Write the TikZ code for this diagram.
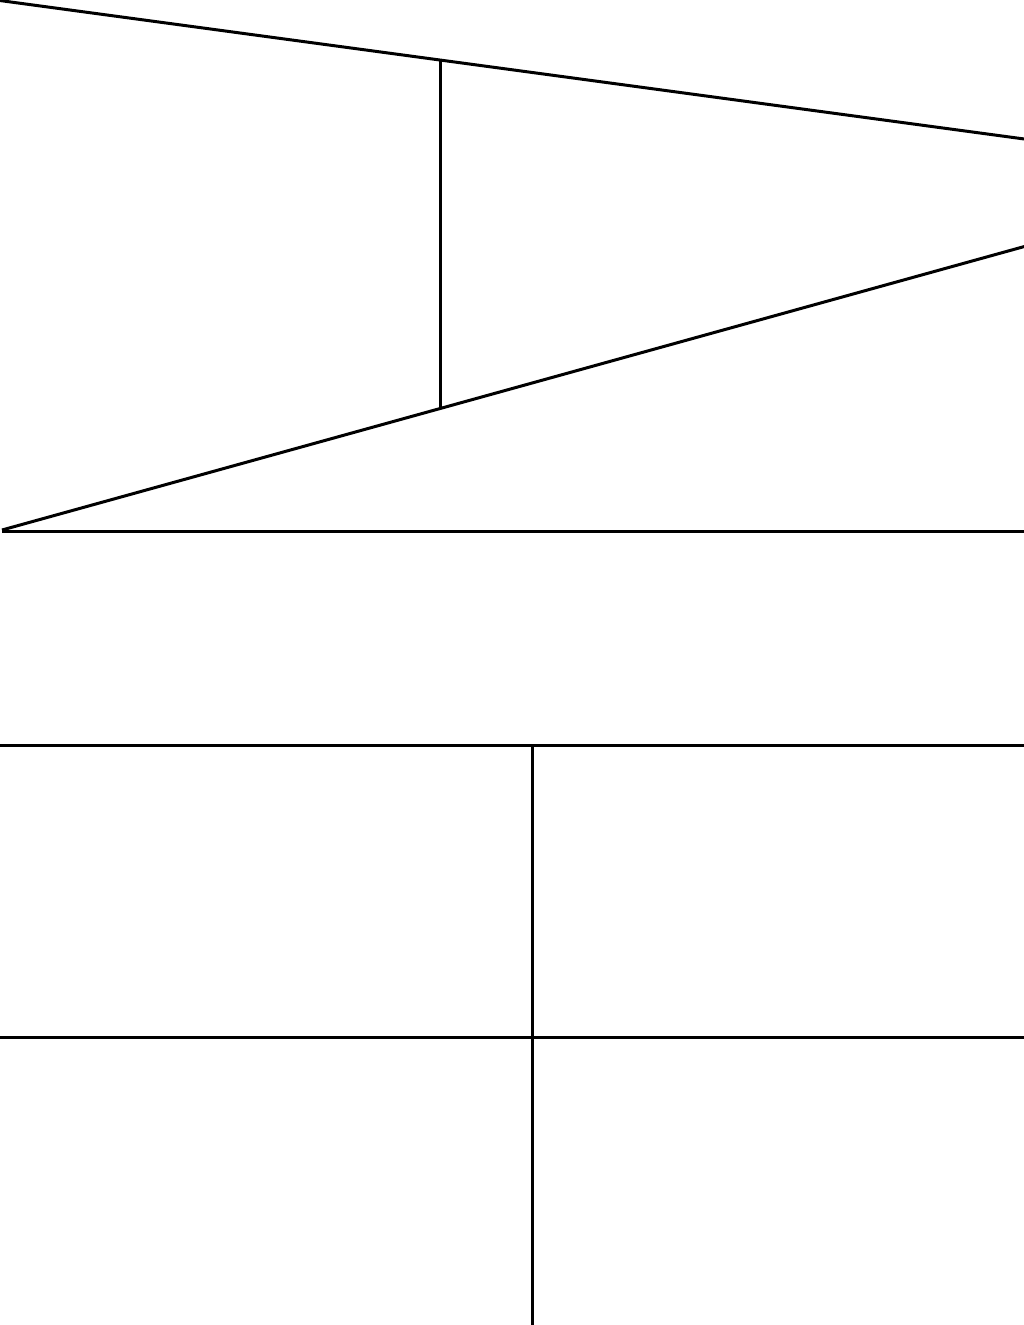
\documentclass[tikz,border=0pt]{standalone}
\begin{document}
\tikzset{every picture/.style={line width=2.25pt}}

\begin{tikzpicture}[x=0.75pt,y=0.75pt,yscale=-1,xscale=1]
\useasboundingbox (0,0) rectangle (1024,1325);
\clip (0,0) rectangle (1024,1325);

%Straight Lines [id:top] 
\draw    (-4,0) -- (1028,139.5) ;
%Straight Lines [id:diag] 
\draw    (2,530) -- (1028,245.5) ;
%Straight Lines [id:mid] 
\draw    (440,60) -- (440,407.5) ;
%Straight Lines [id:base] 
\draw    (2,531.5) -- (1028,531.5) ;

%Straight Lines [id:row1] 
\draw    (-4,745) -- (1028,745) ;
%Straight Lines [id:row2] 
\draw    (-4,1037) -- (1028,1037) ;
%Straight Lines [id:col] 
\draw    (532,745) -- (532,1330) ;

\end{tikzpicture}
\end{document}
